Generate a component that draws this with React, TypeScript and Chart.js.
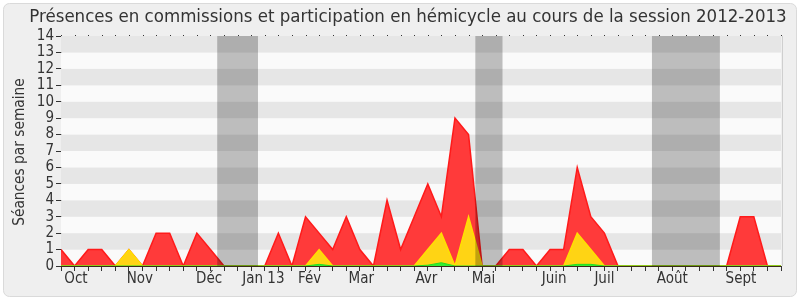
import React, { useEffect, useRef } from "react";
import { Chart, registerables } from "chart.js";

Chart.register(...registerables);

const TITLE = "Présences en commissions et participation en hémicycle au cours de la session 2012-2013";
const Y_TITLE = "Séances par semaine";

// weekly values (Oct 2012 -> Sept 2013)
const presences = [1,0,1,1,0,1,0,2,2,0, 2,1,0,0,0,0,2,0,3,2, 1,3,1,0,4,1,3,5,3,9, 8,0,0,1,1,0,1,1,6,3, 2,0,0,0,0,0,0,0,0,0, 3,3,0,0];
const participation = [0,0,0,0,0,1,0,0,0,0, 0,0,0,0,0,0,0,0,0,1, 0,0,0,0,0,0,0,1,2,0, 3,0,0,0,0,0,0,0,2,1, 0,0,0,0,0,0,0,0,0,0, 0,0,0,0];
const interventions = [0,0,0,0,0,0,0,0,0,0, 0,0,0,0,0,0,0,0,0,0.1, 0,0,0,0,0,0,0,0.05,0.2,0, 0,0,0,0,0,0,0,0,0.1,0.1, 0,0,0,0,0,0,0,0,0,0, 0,0,0,0];

const monthLabels = ["Oct", "Nov", "Déc", "Jan 13", "Fév", "Mar", "Avr", "Mai", "Juin", "Juil", "Août", "Sept"];
const monthPositions = [1.1, 5.8, 10.9, 14.9, 18.3, 22.1, 26.9, 31.1, 36.3, 40.0, 45.0, 50.05];

const vacationStarts = [11.5, 30.5, 43.5];
const vacationEnds = [14.5, 32.5, 48.5];

const Y_MAX = 14;
const FONT = "'DejaVu Sans Condensed', 'DejaVu Sans', sans-serif";

const toPoints = (arr: number[]) => arr.map((v, i) => ({ x: i, y: v }));

const decoPlugin = {
  id: "deco",
  beforeDraw(chart: any) {
    const { ctx, width, height } = chart;
    ctx.save();
    ctx.fillStyle = "#ffffff";
    ctx.fillRect(0, 0, width, height);
    ctx.beginPath();
    const x = 3.5, y = 3.5, w = width - 7, h = height - 7, r = 6;
    ctx.moveTo(x + r, y);
    ctx.arcTo(x + w, y, x + w, y + h, r);
    ctx.arcTo(x + w, y + h, x, y + h, r);
    ctx.arcTo(x, y + h, x, y, r);
    ctx.arcTo(x, y, x + w, y, r);
    ctx.closePath();
    ctx.fillStyle = "#efefef";
    ctx.fill();
    ctx.strokeStyle = "#dadada";
    ctx.lineWidth = 1;
    ctx.stroke();
    ctx.restore();
  },
  beforeDatasetsDraw(chart: any) {
    const { ctx, chartArea } = chart;
    const ys = chart.scales.y;
    ctx.save();
    for (let k = 0; k < Y_MAX; k++) {
      const top = ys.getPixelForValue(k + 1);
      const bot = ys.getPixelForValue(k);
      ctx.fillStyle = k % 2 === 1 ? "#e6e6e6" : "#fafafa";
      ctx.fillRect(chartArea.left, top, chartArea.right - chartArea.left, bot - top);
    }
    ctx.restore();
  },
  afterDatasetsDraw(chart: any) {
    const { ctx, chartArea } = chart;
    const xs = chart.scales.x;
    const ys = chart.scales.y;
    ctx.save();
    ctx.fillStyle = "rgba(0,0,0,0.245)";
    for (let i = 0; i < vacationStarts.length; i++) {
      const a = xs.getPixelForValue(vacationStarts[i]);
      const b = xs.getPixelForValue(vacationEnds[i]);
      ctx.fillRect(a, chartArea.top, b - a, chartArea.bottom - chartArea.top);
    }
    // top dotted marks
    ctx.fillStyle = "#333";
    for (let i = 0; i <= 53; i++) {
      const px = Math.round(xs.getPixelForValue(i));
      ctx.fillRect(px, Math.round(chartArea.top) - 1, 1, 1);
    }
    // baseline
    ctx.strokeStyle = "#3a2a1a";
    ctx.lineWidth = 1;
    const by = Math.round(ys.getPixelForValue(0)) + 0.5;
    ctx.beginPath();
    ctx.moveTo(chartArea.left, by);
    ctx.lineTo(chartArea.right, by);
    ctx.stroke();
    // right border
    ctx.strokeStyle = "#cfcfcf";
    ctx.beginPath();
    ctx.moveTo(chartArea.right + 1.5, chartArea.top);
    ctx.lineTo(chartArea.right + 1.5, chartArea.bottom);
    ctx.stroke();
    ctx.restore();
  },
  afterDraw(chart: any) {
    const { ctx } = chart;
    const xs = chart.scales.x;
    ctx.save();
    ctx.fillStyle = "#333333";
    ctx.textAlign = "center";
    ctx.textBaseline = "middle";
    ctx.font = `18.5px ${FONT}`;
    ctx.fillText(TITLE, 408, 17);
    ctx.font = `15px ${FONT}`;
    for (let i = 0; i < monthLabels.length; i++) {
      ctx.fillText(monthLabels[i], xs.getPixelForValue(monthPositions[i]), 279);
    }
    ctx.translate(20, 152);
    ctx.rotate(-Math.PI / 2);
    ctx.font = `15.3px ${FONT}`;
    ctx.fillText(Y_TITLE, 0, 0);
    ctx.restore();
  },
};

export default function App() {
  const ref = useRef<HTMLCanvasElement | null>(null);
  useEffect(() => {
    document.body.style.margin = "0";
    const canvas = ref.current!;
    const chart = new Chart(canvas, {
      type: "line",
      data: {
        datasets: [
          {
            data: toPoints(interventions),
            borderColor: "#22dd22",
            backgroundColor: "#33ee33",
            borderWidth: 1,
            fill: "origin",
            pointRadius: 0,
            tension: 0,
            order: 1,
          },
          {
            data: toPoints(participation),
            borderColor: "#ffe000",
            backgroundColor: "#ffd414",
            borderWidth: 1.5,
            fill: "origin",
            pointRadius: 0,
            tension: 0,
            order: 2,
          },
          {
            data: toPoints(presences),
            borderColor: "#ff1a1a",
            backgroundColor: "#ff3a3a",
            borderWidth: 1.5,
            fill: "origin",
            pointRadius: 0,
            tension: 0,
            order: 3,
          },
        ],
      },
      options: {
        animation: false,
        responsive: false,
        events: [],
        layout: { padding: { left: 0, right: 19, top: 36, bottom: 0 } },
        plugins: { legend: { display: false }, tooltip: { enabled: false }, title: { display: false } },
        scales: {
          x: {
            type: "linear",
            min: 0,
            max: 53,
            afterFit: (s: any) => { s.height = 34; },
            ticks: { stepSize: 1, autoSkip: false, callback: () => "", maxRotation: 0 },
            afterBuildTicks: (s: any) => {
              const t = [];
              for (let i = 0; i <= 53; i++) t.push({ value: i });
              s.ticks = t;
            },
            grid: { drawOnChartArea: false, drawTicks: true, tickLength: 5, color: "#333" },
            border: { display: true, color: "#333" },
          },
          y: {
            min: 0,
            max: Y_MAX,
            afterFit: (s: any) => { s.width = 61; },
            ticks: { stepSize: 1, autoSkip: false, color: "#333", font: { family: FONT, size: 15 }, padding: 2 },
            grid: { drawOnChartArea: false, drawTicks: true, tickLength: 5, color: "#333" },
            border: { display: true, color: "#333" },
          },
        },
      } as any,
      plugins: [decoPlugin],
    });
    return () => chart.destroy();
  }, []);
  return <canvas ref={ref} width={800} height={300} style={{ display: "block", width: 800, height: 300 }} />;
}
